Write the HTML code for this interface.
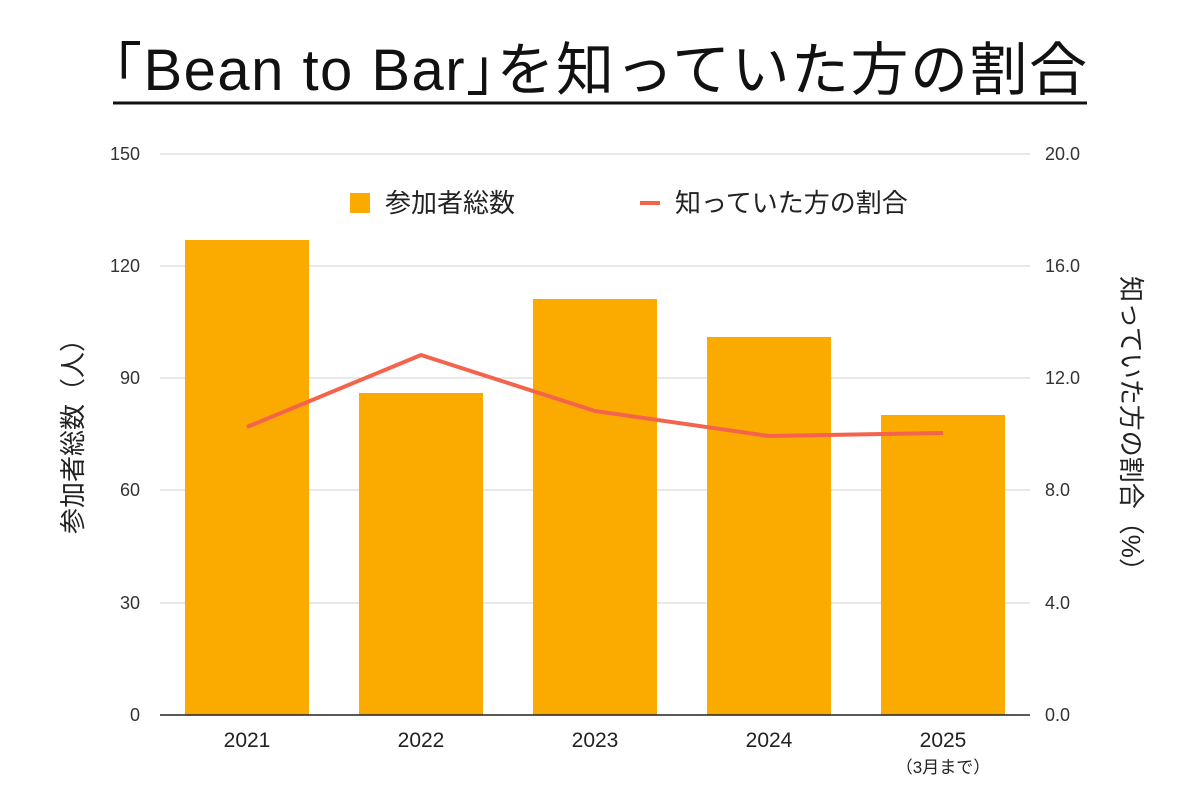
<!DOCTYPE html>
<html><head><meta charset="utf-8"><style>
body{margin:0;background:#fff;}
svg text{font-family:"Liberation Sans","Noto Sans CJK JP",sans-serif;}
</style></head><body>
<svg width="1200" height="800" xmlns="http://www.w3.org/2000/svg">
<rect width="1200" height="800" fill="#fff"/>
<text x="113" y="90" font-size="58" textLength="974" lengthAdjust="spacing" fill="#111">｢Bean to Bar｣を知っていた方の割合</text>
<line x1="113" y1="103" x2="1087" y2="103" stroke="#111" stroke-width="3"/>
<g stroke="#d0d0d0" stroke-width="1">
<line x1="160" y1="154" x2="1030" y2="154"/>
<line x1="160" y1="266" x2="1030" y2="266"/>
<line x1="160" y1="378" x2="1030" y2="378"/>
<line x1="160" y1="490" x2="1030" y2="490"/>
<line x1="160" y1="603" x2="1030" y2="603"/>
</g>
<g fill="#fbab00">
<rect x="185" y="240" width="124" height="475"/>
<rect x="359" y="393" width="124" height="322"/>
<rect x="533" y="299" width="124" height="416"/>
<rect x="707" y="337" width="124" height="378"/>
<rect x="881" y="415" width="124" height="300"/>
</g>
<line x1="160" y1="715" x2="1030" y2="715" stroke="#222" stroke-width="1.5"/>
<polyline points="247,427 421,355 595,411 769,436 943,433" fill="none" stroke="#f4644c" stroke-width="4" stroke-linejoin="round"/>
<g font-size="18" fill="#333" text-anchor="end">
<text x="140" y="160">150</text><text x="140" y="272">120</text><text x="140" y="384">90</text><text x="140" y="496">60</text><text x="140" y="609">30</text><text x="140" y="721">0</text>
</g>
<g font-size="18" fill="#333">
<text x="1045" y="160">20.0</text><text x="1045" y="272">16.0</text><text x="1045" y="384">12.0</text><text x="1045" y="496">8.0</text><text x="1045" y="609">4.0</text><text x="1045" y="721">0.0</text>
</g>
<g font-size="21" fill="#222" text-anchor="middle">
<text x="247" y="747">2021</text><text x="421" y="747">2022</text><text x="595" y="747">2023</text><text x="769" y="747">2024</text><text x="943" y="747">2025</text>
<text x="943" y="773" font-size="17">（3月まで）</text>
</g>
<rect x="350" y="193" width="20" height="20" fill="#fbab00"/>
<text x="385" y="212" font-size="26" fill="#222">参加者総数</text>
<line x1="640" y1="203" x2="660" y2="203" stroke="#f4644c" stroke-width="4"/>
<text x="675" y="212" font-size="26" fill="#222">知っていた方の割合</text>
<text transform="translate(82,430) rotate(-90)" font-size="26" fill="#222" text-anchor="middle">参加者総数（人）</text>
<text transform="translate(1122,430) rotate(90)" font-size="26" fill="#222" text-anchor="middle">知っていた方の割合（%）</text>
</svg>
</body></html>
